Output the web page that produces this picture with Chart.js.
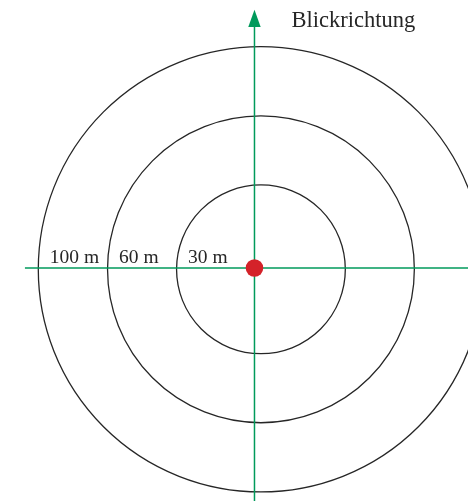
<!DOCTYPE html>
<html><head><meta charset="utf-8">
<script src="https://cdn.jsdelivr.net/npm/chart.js@4"></script>
<style>html,body{margin:0;padding:0;background:#fff;overflow:hidden}</style>
</head><body><canvas id="c" width="468" height="501"></canvas>
<script>
// Schematic distance rings (drawn radius in chart units, as shown in the picture)
const ringLabels = ['30 m', '60 m', '100 m'];
const ringRadii = [37.9, 68.9, 100];
const ringCenter = [2.9, -0.6];
// Observer position
const observer = [{x: 0, y: 0}];
// Axis lines
const horizAxis = [{x: -103.1, y: 0}, {x: 95.9, y: 0}];
const viewAxis = [{x: 0, y: -104.6}, {x: 0, y: 108.2}];
const arrowTip = [{x: 0, y: 115.9}];
const titleText = 'Blickrichtung';
const xRange = [-114.3, 95.9];
const yRange = [-104.6, 120.3];

const GREEN = '#009a5b';
const INK = '#262626';
const FONT = '"Liberation Serif", "Times New Roman", serif';

const ringsPlugin = {
  id: 'rings',
  beforeDatasetsDraw(chart) {
    const {ctx, scales: {x, y}} = chart;
    const cx = x.getPixelForValue(ringCenter[0]);
    const cy = y.getPixelForValue(ringCenter[1]);
    ctx.save();
    ctx.strokeStyle = INK;
    ctx.lineWidth = 1.3;
    ringRadii.forEach(r => {
      const rp = x.getPixelForValue(ringCenter[0] + r) - cx;
      ctx.beginPath();
      ctx.arc(cx, cy, rp, 0, Math.PI * 2);
      ctx.stroke();
    });
    ctx.restore();
  },
  afterDatasetsDraw(chart) {
    const {ctx, scales: {x, y}} = chart;
    ctx.save();
    // arrow head
    const bx = x.getPixelForValue(viewAxis[1].x), by = y.getPixelForValue(viewAxis[1].y);
    const tx = x.getPixelForValue(arrowTip[0].x), ty = y.getPixelForValue(arrowTip[0].y);
    ctx.fillStyle = GREEN;
    ctx.beginPath();
    ctx.moveTo(tx, ty);
    ctx.lineTo(bx + 6.2, by);
    ctx.lineTo(bx - 6.2, by);
    ctx.closePath();
    ctx.fill();
    // title
    ctx.fillStyle = INK;
    ctx.font = '22.5px ' + FONT;
    ctx.textBaseline = 'alphabetic';
    ctx.textAlign = 'left';
    ctx.fillText(titleText, tx + 37, ty + 17.5);
    // ring labels
    const cx = x.getPixelForValue(ringCenter[0]);
    const ly = y.getPixelForValue(0) - 5;
    ctx.font = '19.5px ' + FONT;
    ringRadii.forEach((r, i) => {
      const left = x.getPixelForValue(ringCenter[0] - r);
      ctx.fillText(ringLabels[i], left + 11.5, ly);
    });
    ctx.restore();
  }
};

new Chart(document.getElementById('c'), {
  type: 'scatter',
  data: {
    datasets: [
      {data: observer, pointRadius: 8.8, pointHoverRadius: 8.8, backgroundColor: '#d42229', borderWidth: 0, order: 0},
      {data: horizAxis, showLine: true, pointRadius: 0, borderColor: GREEN, borderWidth: 1.5, order: 1},
      {data: viewAxis, showLine: true, pointRadius: 0, borderColor: GREEN, borderWidth: 1.5, order: 2}
    ]
  },
  options: {
    responsive: false,
    animation: false,
    events: [],
    layout: {padding: 0, autoPadding: false},
    plugins: {legend: {display: false}, tooltip: {enabled: false}, title: {display: false}},
    scales: {
      x: {type: 'linear', display: false, min: xRange[0], max: xRange[1]},
      y: {type: 'linear', display: false, min: yRange[0], max: yRange[1]}
    }
  },
  plugins: [ringsPlugin]
});
</script>
</body></html>
